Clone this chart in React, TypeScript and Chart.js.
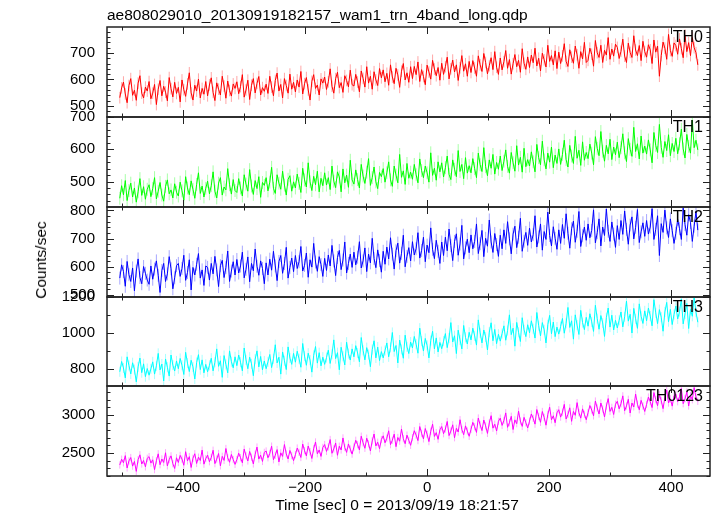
import React, { useEffect, useRef } from 'react';
import { Chart, registerables } from 'chart.js';

Chart.register(...registerables);
Chart.defaults.font.family = '"Liberation Sans", Arial, Helvetica, sans-serif';
Chart.defaults.color = '#000';

const TITLE = 'ae808029010_20130919182157_wam1_trn_4band_long.qdp';
const X_TITLE = 'Time [sec] 0 = 2013/09/19 18:21:57';
const Y_TITLE = 'Counts/sec';

const TIMES = [
  -504, -501, -498, -495, -492, -489, -486, -483, -480, -477, -474, -471, -468, -465, -462, -459,
  -456, -453, -450, -447, -444, -441, -438, -435, -432, -429, -426, -423, -420, -417, -414, -411,
  -408, -405, -402, -399, -396, -393, -390, -387, -384, -381, -378, -375, -372, -369, -366, -363,
  -360, -357, -354, -351, -348, -345, -342, -339, -336, -333, -330, -327, -324, -321, -318, -315,
  -312, -309, -306, -303, -300, -297, -294, -291, -288, -285, -282, -279, -276, -273, -270, -267,
  -264, -261, -258, -255, -252, -249, -246, -243, -240, -237, -234, -231, -228, -225, -222, -219,
  -216, -213, -210, -207, -204, -201, -198, -195, -192, -189, -186, -183, -180, -177, -174, -171,
  -168, -165, -162, -159, -156, -153, -150, -147, -144, -141, -138, -135, -132, -129, -126, -123,
  -120, -117, -114, -111, -108, -105, -102, -99, -96, -93, -90, -87, -84, -81, -78, -75,
  -72, -69, -66, -63, -60, -57, -54, -51, -48, -45, -42, -39, -36, -33, -30, -27,
  -24, -21, -18, -15, -12, -9, -6, -3, 0, 3, 6, 9, 12, 15, 18, 21,
  24, 27, 30, 33, 36, 39, 42, 45, 48, 51, 54, 57, 60, 63, 66, 69,
  72, 75, 78, 81, 84, 87, 90, 93, 96, 99, 102, 105, 108, 111, 114, 117,
  120, 123, 126, 129, 132, 135, 138, 141, 144, 147, 150, 153, 156, 159, 162, 165,
  168, 171, 174, 177, 180, 183, 186, 189, 192, 195, 198, 201, 204, 207, 210, 213,
  216, 219, 222, 225, 228, 231, 234, 237, 240, 243, 246, 249, 252, 255, 258, 261,
  264, 267, 270, 273, 276, 279, 282, 285, 288, 291, 294, 297, 300, 303, 306, 309,
  312, 315, 318, 321, 324, 327, 330, 333, 336, 339, 342, 345, 348, 351, 354, 357,
  360, 363, 366, 369, 372, 375, 378, 381, 384, 387, 390, 393, 396, 399, 402, 405,
  408, 411, 414, 417, 420, 423, 426, 429, 432, 435, 438, 441, 444,
];

const TH0 = [
  531, 568, 590, 545, 512, 577, 603, 540, 559, 521, 586, 614, 548, 530, 571, 556,
  592, 527, 548, 581, 505, 563, 596, 538, 574, 552, 519, 607, 565, 534, 589, 547,
  570, 515, 598, 561, 536, 583, 625, 549, 522, 578, 556, 601, 530, 566, 544, 592,
  538, 579, 606, 551, 520, 587, 563, 541, 612, 575, 529, 594, 558, 537, 583, 566,
  591, 546, 573, 618, 533, 560, 597, 524, 578, 603, 549, 585, 611, 541, 569, 555,
  582, 547, 612, 571, 538, 596, 624, 556, 581, 530, 603, 577, 548, 620, 563, 589,
  553, 598, 571, 630, 545, 584, 607, 560, 522, 593, 618, 566, 579, 541, 602, 586,
  609, 562, 591, 640, 574, 548, 603, 627, 569, 588, 551, 614, 596, 572, 635, 580,
  575, 619, 590, 553, 632, 604, 571, 648, 586, 612, 563, 629, 598, 577, 641, 606,
  636, 591, 623, 578, 655, 609, 584, 642, 617, 570, 631, 660, 598, 625, 589, 648,
  603, 649, 618, 666, 592, 637, 611, 580, 654, 628, 601, 672, 639, 614, 645, 597,
  661, 619, 648, 684, 602, 640, 673, 628, 655, 596, 644, 690, 631, 659, 612, 668,
  626, 671, 643, 612, 689, 655, 630, 698, 664, 621, 652, 682, 637, 705, 646, 619,
  681, 636, 667, 709, 642, 675, 620, 659, 694, 648, 672, 627, 716, 661, 638, 685,
  645, 692, 663, 718, 651, 680, 632, 699, 674, 647, 729, 668, 690, 655, 708, 641,
  703, 660, 689, 735, 668, 649, 712, 684, 661, 726, 693, 642, 705, 677, 740, 664,
  672, 718, 695, 650, 747, 701, 683, 729, 664, 710, 692, 758, 676, 715, 688, 733,
  721, 679, 706, 752, 688, 664, 737, 702, 683, 765, 711, 690, 728, 671, 744, 705,
  684, 731, 712, 660, 749, 703, 726, 612, 690, 741, 718, 676, 770, 709, 687, 738,
  728, 695, 753, 716, 682, 767, 705, 739, 690, 758, 720, 701, 655,
];

const TH1 = [
  448, 487, 459, 503, 441, 472, 495, 452, 480, 436, 468, 509, 457, 484, 445, 476,
  490, 453, 478, 512, 446, 470, 497, 458, 439, 485, 505, 462, 474, 449, 493, 467,
  455, 498, 471, 442, 515, 480, 459, 502, 476, 448, 491, 527, 463, 486, 452, 479,
  501, 462, 487, 530, 470, 449, 495, 512, 458, 483, 474, 540, 490, 461, 506, 472,
  466, 509, 480, 455, 521, 492, 470, 537, 486, 460, 503, 478, 515, 451, 497, 488,
  512, 471, 498, 544, 479, 463, 521, 495, 476, 532, 489, 458, 507, 518, 470, 499,
  480, 523, 494, 466, 541, 505, 483, 558, 499, 472, 516, 490, 532, 468, 510, 487,
  527, 489, 512, 475, 548, 501, 481, 530, 514, 468, 539, 496, 520, 482, 566, 505,
  492, 536, 506, 480, 553, 517, 494, 529, 571, 488, 512, 545, 499, 478, 528, 515,
  540, 498, 527, 561, 505, 485, 548, 520, 496, 584, 513, 533, 491, 556, 510, 529,
  507, 553, 521, 496, 570, 534, 512, 548, 527, 498, 589, 519, 541, 504, 561, 530,
  558, 514, 543, 579, 522, 506, 567, 538, 515, 596, 531, 553, 509, 574, 526, 549,
  527, 571, 540, 512, 588, 552, 531, 605, 546, 518, 567, 541, 584, 523, 559, 538,
  579, 534, 563, 598, 547, 526, 590, 558, 532, 611, 551, 575, 529, 603, 546, 568,
  548, 592, 561, 530, 615, 574, 552, 625, 567, 539, 588, 560, 607, 543, 582, 556,
  601, 553, 584, 628, 568, 545, 612, 579, 556, 640, 572, 597, 550, 623, 566, 590,
  571, 616, 588, 552, 639, 603, 580, 655, 594, 563, 612, 586, 631, 568, 607, 583,
  622, 574, 605, 648, 589, 562, 633, 600, 578, 668, 593, 617, 570, 641, 588, 610,
  585, 629, 598, 558, 652, 612, 590, 677, 606, 575, 624, 596, 645, 580, 618, 593,
  634, 586, 617, 662, 601, 573, 646, 609, 588, 690, 605, 628, 598,
];

const TH2 = [
  560, 607, 583, 531, 619, 572, 548, 596, 515, 585, 628, 562, 540, 601, 577, 553,
  538, 603, 556, 592, 621, 570, 509, 587, 612, 548, 575, 636, 593, 522, 561, 604,
  612, 566, 594, 641, 552, 580, 625, 518, 598, 571, 609, 647, 560, 589, 534, 603,
  598, 553, 612, 575, 637, 589, 530, 604, 623, 562, 597, 656, 548, 585, 618, 571,
  626, 578, 603, 652, 561, 591, 635, 547, 612, 586, 663, 602, 570, 621, 594, 540,
  614, 571, 627, 588, 655, 603, 551, 619, 640, 577, 612, 669, 560, 598, 631, 583,
  640, 594, 618, 672, 585, 605, 649, 563, 625, 599, 683, 617, 584, 636, 608, 566,
  630, 587, 642, 603, 676, 621, 569, 633, 658, 590, 624, 688, 578, 612, 645, 598,
  652, 607, 634, 689, 596, 621, 667, 583, 645, 614, 701, 629, 597, 660, 622, 581,
  655, 609, 670, 628, 703, 645, 592, 657, 684, 613, 648, 712, 600, 637, 668, 621,
  689, 642, 664, 721, 631, 658, 705, 618, 677, 650, 738, 662, 629, 694, 655, 612,
  688, 640, 705, 657, 734, 675, 622, 690, 717, 641, 681, 747, 628, 667, 698, 650,
  713, 664, 690, 752, 647, 682, 729, 636, 701, 673, 766, 688, 651, 718, 679, 637,
  712, 664, 731, 683, 760, 699, 646, 716, 744, 668, 705, 772, 655, 691, 722, 676,
  737, 688, 714, 781, 670, 706, 752, 659, 725, 697, 794, 711, 674, 742, 701, 662,
  731, 683, 750, 701, 788, 719, 666, 735, 762, 687, 726, 796, 672, 710, 741, 694,
  752, 703, 729, 802, 685, 721, 770, 674, 741, 711, 805, 726, 690, 759, 716, 669,
  746, 697, 764, 715, 798, 733, 680, 748, 777, 699, 740, 803, 686, 724, 756, 708,
  764, 716, 741, 806, 697, 733, 781, 640, 753, 722, 801, 738, 704, 770, 728, 683,
  719, 768, 735, 697, 808, 750, 712, 785, 757, 690, 744, 796, 730,
];

const TH3 = [
  785, 842, 806, 751, 868, 820, 773, 835, 797, 729, 812, 861, 780, 829, 758, 803,
  766, 801, 840, 772, 818, 887, 795, 828, 734, 856, 810, 761, 878, 822, 789, 845,
  802, 859, 821, 770, 893, 833, 786, 849, 812, 745, 836, 880, 797, 851, 779, 826,
  785, 821, 860, 790, 838, 912, 815, 846, 754, 875, 826, 779, 901, 841, 807, 868,
  819, 878, 838, 790, 917, 851, 802, 866, 829, 763, 855, 901, 812, 870, 796, 845,
  802, 840, 881, 808, 857, 935, 834, 866, 772, 895, 846, 797, 923, 861, 826, 887,
  838, 899, 857, 810, 942, 872, 821, 888, 850, 783, 876, 925, 833, 891, 818, 866,
  826, 864, 905, 831, 882, 962, 858, 891, 796, 921, 871, 823, 949, 886, 850, 912,
  868, 930, 889, 840, 975, 904, 851, 919, 881, 813, 908, 957, 862, 922, 847, 897,
  862, 903, 945, 868, 920, 1003, 897, 931, 834, 961, 909, 860, 988, 923, 886, 950,
  917, 981, 938, 888, 1027, 955, 900, 970, 931, 862, 958, 1010, 912, 973, 895, 948,
  913, 955, 997, 919, 972, 1058, 950, 985, 886, 1016, 962, 912, 1042, 976, 939, 1004,
  962, 1027, 984, 933, 1073, 1001, 945, 1017, 978, 906, 1005, 1057, 957, 1020, 941, 993,
  955, 997, 1040, 960, 1014, 1101, 991, 1027, 927, 1059, 1004, 953, 1085, 1018, 980, 1046,
  1001, 1068, 1024, 972, 1114, 1041, 984, 1058, 1018, 945, 1046, 1098, 996, 1061, 980, 1033,
  994, 1036, 1081, 999, 1054, 1142, 1031, 1068, 966, 1101, 1044, 992, 1126, 1058, 1019, 1087,
  1038, 1107, 1062, 1009, 1154, 1080, 1021, 1097, 1056, 981, 1085, 1139, 1033, 1099, 1017, 1071,
  1028, 1071, 1117, 1034, 1090, 1177, 1066, 1104, 1000, 1137, 1079, 1026, 1162, 1093, 1053, 1123,
  1068, 1139, 1094, 1040, 1185, 1112, 1052, 1130, 1088, 1010, 1117, 1170, 1063, 1131, 1047, 1103,
  1150, 1078, 1119, 1189, 1051, 1106, 1164, 1025, 1131, 1093, 1195, 1116, 1060,
];

const TH0123 = [
  2342, 2418, 2371, 2465, 2303, 2396, 2440, 2327, 2389, 2258, 2412, 2476, 2355, 2401, 2318, 2430,
  2452, 2367, 2410, 2281, 2398, 2489, 2346, 2421, 2375, 2503, 2330, 2414, 2462, 2359, 2296, 2437,
  2375, 2468, 2420, 2338, 2517, 2396, 2452, 2309, 2431, 2490, 2362, 2445, 2401, 2538, 2353, 2426,
  2472, 2385, 2441, 2536, 2360, 2419, 2493, 2331, 2456, 2402, 2559, 2437, 2378, 2480, 2413, 2350,
  2412, 2497, 2438, 2371, 2551, 2463, 2395, 2520, 2444, 2356, 2483, 2578, 2420, 2471, 2389, 2508,
  2526, 2437, 2494, 2590, 2411, 2470, 2545, 2382, 2502, 2455, 2611, 2488, 2421, 2533, 2466, 2399,
  2478, 2565, 2509, 2441, 2618, 2531, 2462, 2592, 2517, 2428, 2556, 2645, 2490, 2540, 2455, 2573,
  2611, 2521, 2580, 2677, 2496, 2553, 2632, 2470, 2589, 2540, 2698, 2572, 2508, 2619, 2551, 2485,
  2578, 2667, 2610, 2540, 2721, 2634, 2562, 2695, 2621, 2527, 2659, 2750, 2593, 2642, 2556, 2677,
  2726, 2634, 2695, 2792, 2610, 2668, 2748, 2583, 2704, 2655, 2815, 2688, 2622, 2735, 2667, 2601,
  2702, 2793, 2736, 2663, 2848, 2760, 2686, 2822, 2747, 2650, 2786, 2879, 2718, 2768, 2680, 2805,
  2848, 2754, 2816, 2915, 2729, 2789, 2871, 2701, 2825, 2776, 2938, 2809, 2741, 2857, 2788, 2720,
  2811, 2903, 2846, 2771, 2960, 2870, 2795, 2934, 2857, 2758, 2896, 2991, 2827, 2879, 2789, 2917,
  2959, 2863, 2927, 3028, 2838, 2899, 2983, 2809, 2936, 2886, 3051, 2920, 2850, 2969, 2898, 2829,
  2920, 3014, 2956, 2880, 3072, 2981, 2904, 3046, 2968, 2866, 3007, 3103, 2937, 2990, 2898, 3029,
  3070, 2972, 3037, 3140, 2947, 3009, 3095, 2917, 3047, 2996, 3163, 3031, 2959, 3081, 3008, 2938,
  3030, 3125, 3066, 2989, 3184, 3092, 3013, 3158, 3079, 2975, 3118, 3216, 3047, 3101, 3007, 3141,
  3181, 3081, 3148, 3252, 3056, 3119, 3207, 3026, 3158, 3106, 3276, 3142, 3069, 3193, 3118, 3047,
  3139, 3236, 3176, 3098, 3296, 3203, 3123, 3270, 3190, 3084, 3229, 3329, 3158, 3213, 3117, 3254,
  3277, 3175, 3243, 3349, 3149, 3213, 3303, 3119, 3255, 3201, 3361, 3237, 3180,
];

// 1-sigma error on each rate, per band (counts/sec)
const ERRORS = [22, 20, 23, 28, 48];

const X_MIN = -525;
const X_MAX = 464;
const X_MAJOR = [-400, -200, 0, 200, 400];
const X_MINOR = [-500, -300, -100, 100, 300];

const PANEL_NAMES = ['TH0', 'TH1', 'TH2', 'TH3', 'TH0123'];
const PANEL_VALUES = [TH0, TH1, TH2, TH3, TH0123];
const Y_MIN = [458, 421, 493, 706, 2197];
const Y_MAX = [798, 700, 812, 1200, 3382];
const Y_MAJOR = [[500, 600, 700], [500, 600, 700], [500, 600, 700, 800], [800, 1000, 1200], [2500, 3000]];
const Y_MINOR_STEP = [20, 20, 20, 100, 100];

const COLORS = ['#ff0000', '#00ff00', '#0000ff', '#00ffff', '#ff00ff'];
const ERR_COLORS = ['rgba(255,0,0,0.35)', 'rgba(0,255,0,0.35)', 'rgba(0,0,255,0.35)', 'rgba(0,255,255,0.35)', 'rgba(255,0,255,0.35)'];
const PANEL_TOP = [27, 117, 207, 297, 386];
const PANEL_BOTTOM = [117, 207, 297, 386, 476];
const PLOT_LEFT = 107;
const PLOT_RIGHT = 710;
const W = 717;
const PAD = 10;
const X_AXIS_H = 30;

const fmtX = (v: number) => (v < 0 ? '\u2212' + Math.abs(v) : String(v));

const errorBarPlugin = {
  id: 'qdpErrors',
  beforeDatasetsDraw(chart: any, _args: any, opts: any) {
    const { ctx, chartArea: a, scales } = chart;
    const xs = scales.x;
    const ys = scales.y;
    const ds = chart.data.datasets[0].data as { x: number; y: number }[];
    ctx.save();
    ctx.beginPath();
    ctx.rect(a.left, a.top, a.right - a.left, a.bottom - a.top);
    ctx.clip();
    ctx.strokeStyle = opts.color;
    ctx.lineWidth = 1;
    ctx.beginPath();
    for (const p of ds) {
      if (p.y == null) continue;
      const px = xs.getPixelForValue(p.x);
      ctx.moveTo(px, ys.getPixelForValue(p.y - opts.err));
      ctx.lineTo(px, ys.getPixelForValue(p.y + opts.err));
    }
    ctx.stroke();
    ctx.restore();
  },
};

const framePlugin = {
  id: 'qdpFrame',
  afterDatasetsDraw(chart: any, _args: any, opts: any) {
    const { ctx, chartArea: a, scales } = chart;
    const xs = scales.x;
    const ys = scales.y;
    ctx.save();
    ctx.strokeStyle = '#222';
    ctx.lineWidth = 1;
    ctx.beginPath();
    const xt = (v: number, len: number) => {
      const p = Math.round(xs.getPixelForValue(v)) + 0.5;
      ctx.moveTo(p, a.top);
      ctx.lineTo(p, a.top + len);
      ctx.moveTo(p, a.bottom);
      ctx.lineTo(p, a.bottom - len);
    };
    const yt = (v: number, len: number) => {
      const p = Math.round(ys.getPixelForValue(v)) + 0.5;
      ctx.moveTo(a.left, p);
      ctx.lineTo(a.left + len, p);
      ctx.moveTo(a.right, p);
      ctx.lineTo(a.right - len, p);
    };
    X_MAJOR.forEach((v) => xt(v, 7));
    X_MINOR.forEach((v) => xt(v, 3.5));
    const step = opts.minorStep;
    for (let v = Math.ceil(ys.min / step) * step; v <= ys.max; v += step) {
      if (opts.major.includes(v)) yt(v, 7);
      else yt(v, 3.5);
    }
    ctx.stroke();
    ctx.lineWidth = 1.5;
    ctx.strokeRect(a.left, a.top, a.right - a.left, a.bottom - a.top);
    ctx.restore();
  },
};

function Panel({ idx }: { idx: number }) {
  const ref = useRef<HTMLCanvasElement | null>(null);
  const isLast = idx === PANEL_NAMES.length - 1;
  const h = PANEL_BOTTOM[idx] - PANEL_TOP[idx] + PAD + (isLast ? X_AXIS_H : PAD);
  const top = PANEL_TOP[idx] - PAD;

  useEffect(() => {
    if (!ref.current) return;
    const values = PANEL_VALUES[idx];
    const chart = new Chart(ref.current, {
      type: 'line',
      data: {
        datasets: [
          {
            data: TIMES.map((t, i) => ({ x: t, y: values[i] })),
            borderColor: COLORS[idx],
            borderWidth: 1,
            pointRadius: 0,
            tension: 0,
          },
        ],
      },
      options: {
        animation: false,
        responsive: false,
        events: [],
        layout: { padding: { left: 0, right: W - PLOT_RIGHT, top: PAD, bottom: isLast ? 0 : PAD } },
        plugins: {
          legend: { display: false },
          tooltip: { enabled: false },
          title: { display: false },
          qdpFrame: { major: Y_MAJOR[idx], minorStep: Y_MINOR_STEP[idx] },
          qdpErrors: { err: ERRORS[idx], color: ERR_COLORS[idx] },
        } as any,
        scales: {
          x: {
            type: 'linear',
            min: X_MIN,
            max: X_MAX,
            display: isLast,
            grid: { display: false, drawTicks: false },
            border: { display: false },
            afterBuildTicks: (s: any) => {
              s.ticks = X_MAJOR.map((v) => ({ value: v }));
            },
            afterFit: (s: any) => {
              if (isLast) s.height = X_AXIS_H;
              s.paddingLeft = 0;
              s.paddingRight = 0;
            },
            ticks: {
              padding: 3,
              color: '#000',
              font: { size: 15 },
              maxRotation: 0,
              autoSkip: false,
              callback: (v: any) => fmtX(Number(v)),
            },
          },
          y: {
            type: 'linear',
            min: Y_MIN[idx],
            max: Y_MAX[idx],
            grid: { display: false, drawTicks: false },
            border: { display: false },
            afterBuildTicks: (s: any) => {
              s.ticks = Y_MAJOR[idx].map((v) => ({ value: v }));
            },
            afterFit: (s: any) => {
              s.width = PLOT_LEFT;
              s.paddingTop = 0;
              s.paddingBottom = 0;
            },
            ticks: {
              padding: 12,
              color: '#000',
              font: { size: 15 },
              autoSkip: false,
              callback: (v: any) => String(v),
            },
          },
        },
      },
      plugins: [errorBarPlugin as any, framePlugin as any],
    });
    return () => chart.destroy();
  }, [idx]);

  return (
    <canvas
      ref={ref}
      width={W}
      height={h}
      style={{ position: 'absolute', left: 0, top, width: W, height: h }}
    />
  );
}

export default function App() {
  const font = '"Liberation Sans", Arial, Helvetica, sans-serif';
  return (
    <div style={{ position: 'absolute', left: 0, top: 0, width: W, height: 516, background: '#fff', fontFamily: font, color: '#000' }}>
      {PANEL_NAMES.map((_, i) => (
        <Panel key={i} idx={i} />
      ))}
      <div style={{ position: 'absolute', left: PLOT_LEFT, top: 6, fontSize: 15.5, lineHeight: '18px', whiteSpace: 'nowrap' }}>
        {TITLE}
      </div>
      <div
        style={{
          position: 'absolute',
          left: 41,
          top: 260,
          fontSize: 15.5,
          lineHeight: '18px',
          whiteSpace: 'nowrap',
          transform: 'translate(-50%, -50%) rotate(-90deg)',
        }}
      >
        {Y_TITLE}
      </div>
      <div
        style={{
          position: 'absolute',
          left: 397,
          top: 505,
          fontSize: 15.5,
          lineHeight: '18px',
          whiteSpace: 'nowrap',
          transform: 'translate(-50%, -50%)',
        }}
      >
        {X_TITLE}
      </div>
      {PANEL_NAMES.map((name, i) => (
        <div
          key={name}
          style={{
            position: 'absolute',
            right: W - 703,
            top: PANEL_TOP[i] + 2,
            fontSize: 16,
            lineHeight: '16px',
            whiteSpace: 'nowrap',
          }}
        >
          {name}
        </div>
      ))}
    </div>
  );
}
